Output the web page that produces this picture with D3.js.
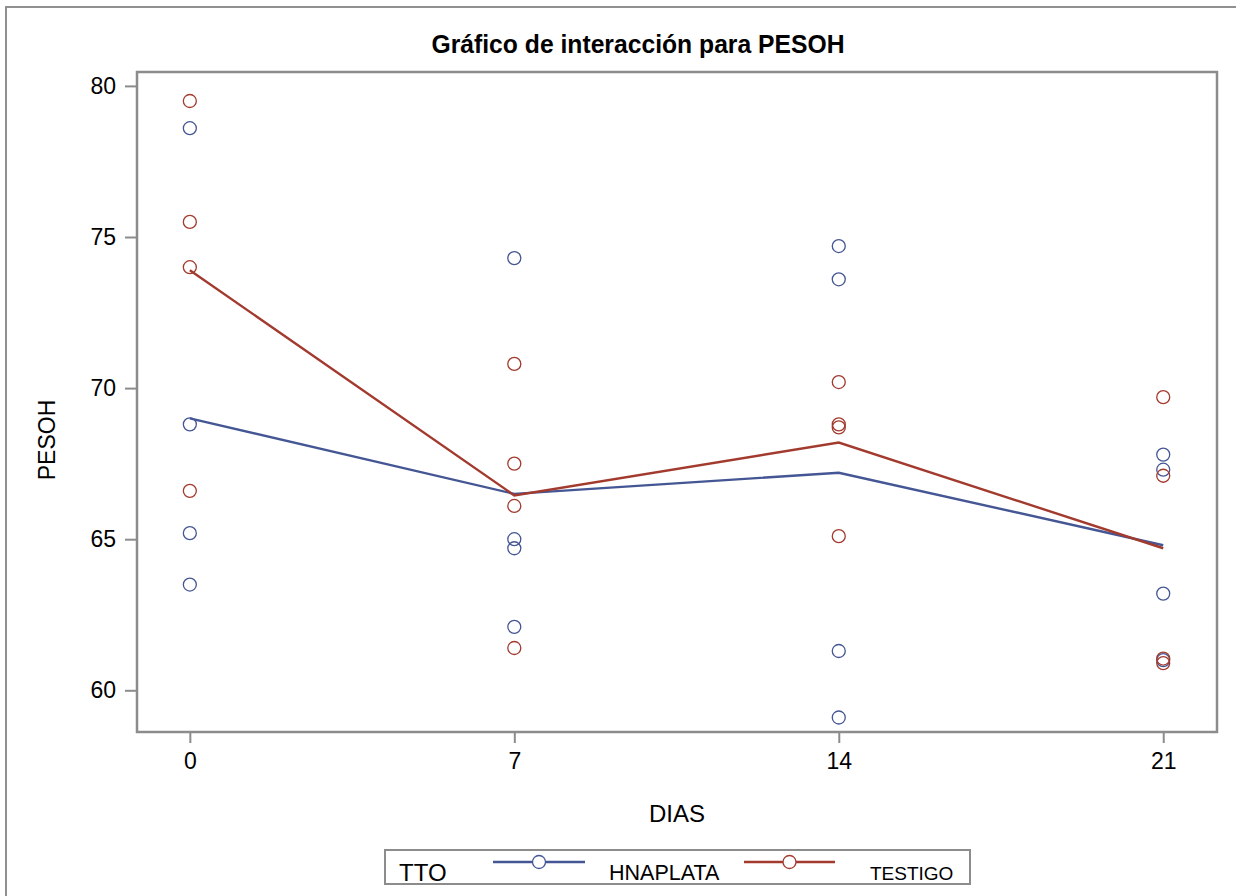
<!DOCTYPE html>
<html>
<head>
<meta charset="utf-8">
<script src="https://cdn.jsdelivr.net/npm/d3@7"></script>
<style>
  body { margin: 0; background: #fff; }
  text { font-family: "Liberation Sans", Arial, sans-serif; fill: #000; }
</style>
</head>
<body>
<div id="graph"></div>
<script>
/* data */
var dias = [0, 7, 14, 21];
var yTicks = [60, 65, 70, 75, 80];

// raw observations per day (PESOH)
var hnaplataObs = [
  [78.6, 68.8, 65.2, 63.5],
  [74.3, 65.0, 64.7, 62.1],
  [74.7, 73.6, 61.3, 59.1],
  [67.8, 67.3, 63.2, 61.0]
];
var testigoObs = [
  [79.5, 75.5, 74.0, 66.6],
  [70.8, 67.5, 66.1, 61.4],
  [70.2, 68.8, 68.7, 65.1],
  [69.7, 67.1, 61.05, 60.9]
];

// mean lines
var hnaplataMean = [69.0, 66.5, 67.2, 64.8];
var testigoMean = [73.9, 66.45, 68.2, 64.7];

var series = [
  { name: "HNAPLATA", obs: hnaplataObs, mean: hnaplataMean, color: "#445694" },
  { name: "TESTIGO", obs: testigoObs, mean: testigoMean, color: "#A23A2E" }
];

var width = 1236;
var height = 896;

var svg = d3.select("#graph")
            .append("svg")
            .attr("width", width)
            .attr("height", height);

// outer frame (runs off the right/bottom of the image)
svg.append("rect")
   .attr("x", 6).attr("y", 7)
   .attr("width", 1300).attr("height", 1000)
   .style("fill", "none")
   .style("stroke", "#909090")
   .style("stroke-width", 2);

var plot = { left: 137, top: 72, right: 1217, bottom: 732 };

var x = d3.scaleLinear()
          .domain([-1.14, 22.16])
          .range([plot.left, plot.right]);

var y = d3.scaleLinear()
          .domain([58.62, 80.46])
          .range([plot.bottom, plot.top]);

// title
svg.append("text")
   .attr("x", 638)
   .attr("y", 53)
   .attr("text-anchor", "middle")
   .style("font-size", "26px")
   .style("font-weight", "bold")
   .attr("textLength", 413)
   .attr("lengthAdjust", "spacingAndGlyphs")
   .text("Gráfico de interacción para PESOH");

// axes
var xAxis = d3.axisBottom(x)
              .tickValues(dias)
              .tickSize(11)
              .tickPadding(10);

var yAxis = d3.axisLeft(y)
              .tickValues(yTicks)
              .tickSize(12)
              .tickPadding(9);

var gx = svg.append("g")
            .attr("transform", "translate(0," + plot.bottom + ")")
            .call(xAxis);
var gy = svg.append("g")
            .attr("transform", "translate(" + plot.left + ",0)")
            .call(yAxis);

[gx, gy].forEach(function(g) {
  g.select(".domain").remove();
  g.selectAll(".tick line").style("stroke", "#8c8c8c").style("stroke-width", 2);
  g.selectAll(".tick text")
   .style("font-size", "23px")
   .style("font-family", "'Liberation Sans', Arial, sans-serif")
   .attr("fill", "#000");
});

// plot frame
svg.append("rect")
   .attr("x", plot.left).attr("y", plot.top)
   .attr("width", plot.right - plot.left)
   .attr("height", plot.bottom - plot.top)
   .style("fill", "none")
   .style("stroke", "#8c8c8c")
   .style("stroke-width", 2.5);

// axis labels
svg.append("text")
   .attr("x", 677)
   .attr("y", 822)
   .attr("text-anchor", "middle")
   .style("font-size", "24px")
   .text("DIAS");

svg.append("text")
   .attr("transform", "translate(55,440) rotate(-90)")
   .attr("text-anchor", "middle")
   .style("font-size", "23px")
   .text("PESOH");

// points and mean lines
var line = d3.line()
             .x(function(d, i) { return x(dias[i]); })
             .y(function(d) { return y(d); });

series.forEach(function(s) {
  var pts = [];
  s.obs.forEach(function(vals, i) {
    vals.forEach(function(v) { pts.push({ dia: dias[i], v: v }); });
  });

  svg.append("g")
     .selectAll("circle")
     .data(pts)
     .enter()
     .append("circle")
     .attr("cx", function(d) { return x(d.dia); })
     .attr("cy", function(d) { return y(d.v); })
     .attr("r", 6.5)
     .style("fill", "none")
     .style("stroke", s.color)
     .style("stroke-width", 1.3);
});

series.forEach(function(s) {
  svg.append("path")
     .datum(s.mean)
     .attr("d", line)
     .style("fill", "none")
     .style("stroke", s.color)
     .style("stroke-width", 2.4);
});

// legend
var legend = svg.append("g");
legend.append("rect")
      .attr("x", 385).attr("y", 850)
      .attr("width", 585).attr("height", 34)
      .style("fill", "#fff")
      .style("stroke", "#8c8c8c")
      .style("stroke-width", 2);

legend.append("text")
      .attr("x", 399).attr("y", 881)
      .style("font-size", "24px")
      .text("TTO");

var legendItems = [
  { x1: 493, x2: 585, tx: 609, size: 21.5 },
  { x1: 744, x2: 835, tx: 870, size: 19 }
];

series.forEach(function(s, i) {
  var it = legendItems[i];
  legend.append("line")
        .attr("x1", it.x1).attr("x2", it.x2)
        .attr("y1", 862).attr("y2", 862)
        .style("stroke", s.color)
        .style("stroke-width", 2.4);
  legend.append("circle")
        .attr("cx", (it.x1 + it.x2) / 2).attr("cy", 862)
        .attr("r", 6.5)
        .style("fill", "#fff")
        .style("stroke", s.color)
        .style("stroke-width", 1.3);
  legend.append("text")
        .attr("x", it.tx).attr("y", 880)
        .style("font-size", it.size + "px")
        .text(s.name);
});
</script>
</body>
</html>
